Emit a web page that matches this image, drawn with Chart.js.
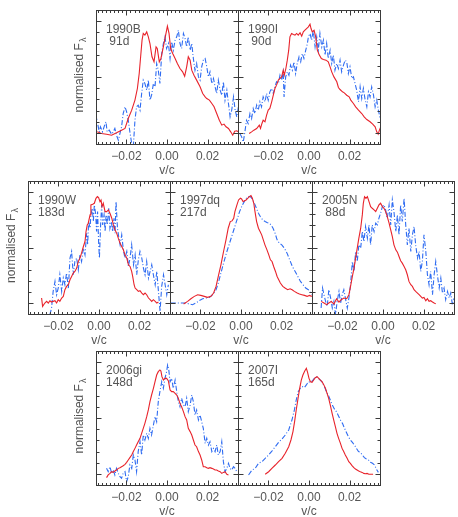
<!DOCTYPE html>
<html>
<head>
<meta charset="utf-8">
<script src="https://cdn.jsdelivr.net/npm/chart.js@4.4.1/dist/chart.umd.min.js"></script>
<style>
  body { margin: 0; background: #fff; width: 458px; height: 517px; position: relative; overflow: hidden; }
  canvas { position: absolute; }
</style>
</head>
<body>
<script>
// [v/c, normalised flux]; red = solid line, blue = dash-dot line
var sn1990B_red = [[-0.0344,0.009],[-0.0323,-0.006],[-0.0298,-0.012],[-0.0273,-0.021],[-0.0249,0.0],[-0.0224,0.024],[-0.0207,0.039],[-0.0191,0.128],[-0.0174,0.203],[-0.0158,0.293],[-0.0146,0.397],[-0.0137,0.531],[-0.0130,0.681],[-0.0123,0.830],[-0.0117,0.890],[-0.0109,0.875],[-0.0100,0.904],[-0.0092,0.860],[-0.0084,0.800],[-0.0074,0.681],[-0.0064,0.636],[-0.0054,0.770],[-0.0048,0.755],[-0.0038,0.636],[-0.0030,0.666],[-0.0018,0.770],[-0.0005,0.890],[0.0002,0.955],[0.0010,0.890],[0.0018,0.755],[0.0028,0.710],[0.0040,0.666],[0.0051,0.621],[0.0064,0.576],[0.0077,0.546],[0.0087,0.507],[0.0097,0.591],[0.0105,0.681],[0.0114,0.651],[0.0122,0.561],[0.0133,0.516],[0.0146,0.472],[0.0163,0.412],[0.0176,0.352],[0.0188,0.322],[0.0196,0.307],[0.0209,0.293],[0.0221,0.263],[0.0232,0.233],[0.0245,0.173],[0.0258,0.113],[0.0270,0.069],[0.0281,0.078],[0.0291,0.054],[0.0303,0.039],[0.0314,0.009],[0.0324,-0.021],[0.0334,0.015],[0.0344,0.018],[0.0352,0.009]];
var sn1990B_blue = [[-0.0351,0.158],[-0.0342,0.084],[-0.0334,0.009],[-0.0328,0.054],[-0.0318,0.009],[-0.0309,0.060],[-0.0301,0.099],[-0.0295,0.009],[-0.0285,0.024],[-0.0273,-0.012],[-0.0265,0.009],[-0.0257,0.039],[-0.0249,-0.021],[-0.0240,-0.066],[-0.0232,-0.006],[-0.0224,0.054],[-0.0216,0.173],[-0.0207,0.233],[-0.0199,0.188],[-0.0191,0.113],[-0.0183,0.009],[-0.0174,-0.096],[-0.0166,-0.125],[-0.0158,0.113],[-0.0150,0.233],[-0.0142,0.248],[-0.0133,0.203],[-0.0125,0.352],[-0.0117,0.472],[-0.0109,0.442],[-0.0100,0.382],[-0.0092,0.472],[-0.0084,0.293],[-0.0076,0.337],[-0.0067,0.442],[-0.0059,0.412],[-0.0051,0.621],[-0.0043,0.561],[-0.0035,0.442],[-0.0026,0.710],[-0.0018,0.800],[-0.0010,0.860],[-0.0002,0.755],[0.0007,0.800],[0.0015,0.666],[0.0023,0.815],[0.0031,0.740],[0.0040,0.830],[0.0048,0.860],[0.0056,0.919],[0.0064,0.800],[0.0072,0.755],[0.0081,0.890],[0.0089,0.845],[0.0097,0.770],[0.0105,0.860],[0.0114,0.740],[0.0122,0.800],[0.0130,0.666],[0.0138,0.561],[0.0146,0.621],[0.0155,0.501],[0.0163,0.472],[0.0171,0.591],[0.0179,0.651],[0.0188,0.666],[0.0196,0.591],[0.0204,0.501],[0.0212,0.546],[0.0221,0.442],[0.0229,0.487],[0.0237,0.412],[0.0245,0.352],[0.0253,0.472],[0.0262,0.382],[0.0270,0.337],[0.0278,0.457],[0.0286,0.293],[0.0295,0.382],[0.0303,0.263],[0.0311,0.143],[0.0319,0.203],[0.0328,0.322],[0.0336,0.203],[0.0344,0.143],[0.0352,0.233]];

var sn1990I_red = [[-0.0295,-0.006],[-0.0283,0.009],[-0.0272,0.024],[-0.0258,0.039],[-0.0245,0.069],[-0.0239,0.039],[-0.0232,0.084],[-0.0226,0.113],[-0.0217,0.099],[-0.0209,0.158],[-0.0201,0.203],[-0.0193,0.218],[-0.0184,0.278],[-0.0176,0.337],[-0.0168,0.397],[-0.0160,0.427],[-0.0151,0.472],[-0.0143,0.487],[-0.0135,0.501],[-0.0127,0.561],[-0.0122,0.516],[-0.0114,0.576],[-0.0107,0.651],[-0.0100,0.740],[-0.0094,0.860],[-0.0086,0.890],[-0.0077,0.881],[-0.0069,0.875],[-0.0061,0.890],[-0.0053,0.875],[-0.0044,0.896],[-0.0036,0.866],[-0.0028,0.904],[-0.0020,0.919],[-0.0012,0.934],[-0.0003,0.949],[0.0005,0.973],[0.0010,0.934],[0.0016,0.904],[0.0025,0.919],[0.0033,0.860],[0.0041,0.740],[0.0051,0.696],[0.0061,0.666],[0.0071,0.657],[0.0084,0.651],[0.0095,0.636],[0.0104,0.591],[0.0112,0.546],[0.0123,0.501],[0.0137,0.457],[0.0145,0.406],[0.0153,0.388],[0.0165,0.367],[0.0174,0.358],[0.0186,0.337],[0.0198,0.322],[0.0206,0.293],[0.0219,0.263],[0.0230,0.233],[0.0244,0.203],[0.0260,0.173],[0.0272,0.143],[0.0285,0.119],[0.0301,0.099],[0.0314,0.078],[0.0326,0.054],[0.0334,0.009],[0.0341,-0.012],[0.0347,0.024],[0.0354,0.054]];
var sn1990I_blue = [[-0.0341,-0.006],[-0.0332,-0.036],[-0.0324,-0.081],[-0.0316,0.009],[-0.0308,0.113],[-0.0300,0.084],[-0.0291,0.173],[-0.0283,0.128],[-0.0275,0.218],[-0.0267,0.173],[-0.0258,0.248],[-0.0250,0.203],[-0.0242,0.278],[-0.0234,0.233],[-0.0226,0.322],[-0.0217,0.278],[-0.0209,0.352],[-0.0201,0.293],[-0.0193,0.367],[-0.0184,0.397],[-0.0176,0.352],[-0.0168,0.412],[-0.0160,0.457],[-0.0151,0.442],[-0.0143,0.516],[-0.0135,0.472],[-0.0127,0.546],[-0.0123,0.322],[-0.0115,0.501],[-0.0107,0.546],[-0.0099,0.516],[-0.0091,0.606],[-0.0082,0.561],[-0.0074,0.636],[-0.0066,0.531],[-0.0058,0.621],[-0.0049,0.681],[-0.0041,0.636],[-0.0033,0.710],[-0.0025,0.666],[-0.0016,0.740],[-0.0008,0.800],[-0.0003,0.860],[0.0005,0.890],[0.0013,0.830],[0.0021,0.919],[0.0030,0.770],[0.0038,0.860],[0.0046,0.740],[0.0054,0.890],[0.0063,0.770],[0.0071,0.830],[0.0079,0.696],[0.0087,0.800],[0.0095,0.666],[0.0104,0.740],[0.0112,0.621],[0.0120,0.696],[0.0128,0.561],[0.0137,0.621],[0.0145,0.576],[0.0153,0.651],[0.0161,0.546],[0.0170,0.606],[0.0178,0.651],[0.0186,0.636],[0.0194,0.531],[0.0202,0.591],[0.0211,0.487],[0.0219,0.501],[0.0227,0.442],[0.0235,0.382],[0.0244,0.278],[0.0252,0.412],[0.0260,0.307],[0.0268,0.397],[0.0277,0.293],[0.0285,0.233],[0.0293,0.367],[0.0301,0.322],[0.0309,0.412],[0.0318,0.337],[0.0326,0.233],[0.0334,0.293],[0.0342,0.203],[0.0351,0.128]];

var sn1990W_red = [[-0.0283,0.044],[-0.0278,-0.031],[-0.0267,-0.001],[-0.0258,0.014],[-0.0250,-0.001],[-0.0242,0.020],[-0.0234,0.008],[-0.0226,0.014],[-0.0217,0.020],[-0.0209,-0.001],[-0.0201,0.029],[-0.0193,0.014],[-0.0184,0.044],[-0.0176,0.059],[-0.0168,0.119],[-0.0160,0.149],[-0.0151,0.164],[-0.0143,0.209],[-0.0135,0.239],[-0.0127,0.269],[-0.0119,0.284],[-0.0110,0.314],[-0.0102,0.374],[-0.0094,0.404],[-0.0086,0.449],[-0.0077,0.509],[-0.0069,0.554],[-0.0064,0.644],[-0.0058,0.704],[-0.0053,0.719],[-0.0044,0.794],[-0.0040,0.884],[-0.0031,0.890],[-0.0023,0.899],[-0.0015,0.944],[-0.0008,0.959],[-0.0002,0.950],[0.0005,0.914],[0.0010,0.929],[0.0015,0.869],[0.0021,0.899],[0.0030,0.824],[0.0038,0.824],[0.0046,0.839],[0.0054,0.809],[0.0063,0.764],[0.0071,0.704],[0.0079,0.659],[0.0087,0.629],[0.0095,0.584],[0.0104,0.539],[0.0112,0.509],[0.0120,0.479],[0.0128,0.434],[0.0137,0.404],[0.0145,0.344],[0.0153,0.329],[0.0161,0.284],[0.0166,0.239],[0.0173,0.164],[0.0178,0.134],[0.0186,0.119],[0.0194,0.104],[0.0202,0.110],[0.0211,0.089],[0.0219,0.074],[0.0227,0.089],[0.0235,0.074],[0.0244,0.044],[0.0252,0.029],[0.0260,0.014],[0.0268,0.029],[0.0277,0.014],[0.0285,-0.001],[0.0293,0.008]];
var sn1990W_blue = [[-0.0242,-0.106],[-0.0234,-0.046],[-0.0226,0.104],[-0.0217,0.194],[-0.0209,0.074],[-0.0201,0.134],[-0.0193,0.254],[-0.0184,0.104],[-0.0176,0.224],[-0.0168,0.164],[-0.0160,0.269],[-0.0151,0.134],[-0.0143,0.404],[-0.0135,0.464],[-0.0127,0.254],[-0.0119,0.374],[-0.0110,0.404],[-0.0102,0.299],[-0.0094,0.434],[-0.0086,0.374],[-0.0077,0.494],[-0.0069,0.434],[-0.0061,0.629],[-0.0056,0.524],[-0.0051,0.734],[-0.0044,0.674],[-0.0040,0.794],[-0.0033,0.854],[-0.0028,0.734],[-0.0023,0.884],[-0.0016,0.794],[-0.0012,0.644],[-0.0007,0.824],[-0.0002,0.554],[0.0002,0.404],[0.0008,0.704],[0.0013,0.884],[0.0018,0.704],[0.0025,0.794],[0.0030,0.644],[0.0035,0.794],[0.0041,0.704],[0.0048,0.854],[0.0054,0.674],[0.0061,0.734],[0.0067,0.644],[0.0074,0.764],[0.0079,0.629],[0.0084,0.914],[0.0091,0.674],[0.0097,0.599],[0.0104,0.524],[0.0112,0.614],[0.0120,0.479],[0.0128,0.404],[0.0137,0.464],[0.0145,0.329],[0.0153,0.404],[0.0161,0.524],[0.0170,0.344],[0.0178,0.434],[0.0186,0.254],[0.0194,0.389],[0.0202,0.464],[0.0211,0.404],[0.0219,0.314],[0.0227,0.254],[0.0235,0.374],[0.0244,0.224],[0.0252,0.284],[0.0260,0.344],[0.0268,0.254],[0.0277,0.164],[0.0285,0.284],[0.0293,0.104],[0.0301,-0.076],[0.0309,0.149],[0.0318,0.254],[0.0326,0.164],[0.0334,0.074],[0.0342,0.164]];

var sn1997dq_red = [[-0.0283,-0.010],[-0.0263,0.014],[-0.0247,0.038],[-0.0230,0.059],[-0.0214,0.074],[-0.0198,0.068],[-0.0181,0.059],[-0.0165,0.050],[-0.0148,0.059],[-0.0135,0.089],[-0.0123,0.149],[-0.0112,0.239],[-0.0099,0.344],[-0.0086,0.464],[-0.0074,0.569],[-0.0063,0.674],[-0.0053,0.734],[-0.0044,0.740],[-0.0036,0.764],[-0.0030,0.824],[-0.0020,0.884],[-0.0012,0.929],[-0.0003,0.944],[0.0003,0.938],[0.0010,0.914],[0.0016,0.920],[0.0025,0.929],[0.0033,0.944],[0.0041,0.959],[0.0049,0.968],[0.0056,0.944],[0.0063,0.899],[0.0069,0.824],[0.0077,0.734],[0.0086,0.674],[0.0094,0.644],[0.0102,0.614],[0.0110,0.569],[0.0118,0.524],[0.0128,0.479],[0.0137,0.434],[0.0145,0.389],[0.0153,0.374],[0.0161,0.329],[0.0170,0.284],[0.0178,0.239],[0.0186,0.209],[0.0194,0.179],[0.0206,0.149],[0.0217,0.134],[0.0230,0.119],[0.0242,0.128],[0.0252,0.119],[0.0263,0.104],[0.0277,0.089],[0.0288,0.080],[0.0300,0.074],[0.0313,0.068],[0.0326,0.059],[0.0337,0.068],[0.0349,0.059]];
var sn1997dq_blue = [[-0.0346,-0.001],[-0.0321,-0.001],[-0.0296,-0.001],[-0.0272,-0.001],[-0.0255,-0.010],[-0.0239,-0.016],[-0.0222,-0.001],[-0.0206,0.020],[-0.0189,0.038],[-0.0173,0.044],[-0.0156,0.050],[-0.0140,0.074],[-0.0123,0.119],[-0.0112,0.179],[-0.0099,0.269],[-0.0086,0.359],[-0.0072,0.449],[-0.0059,0.524],[-0.0046,0.599],[-0.0033,0.674],[-0.0020,0.749],[-0.0007,0.824],[0.0007,0.884],[0.0016,0.914],[0.0026,0.944],[0.0036,0.959],[0.0046,0.959],[0.0056,0.938],[0.0066,0.899],[0.0076,0.854],[0.0086,0.809],[0.0095,0.779],[0.0107,0.749],[0.0119,0.734],[0.0128,0.725],[0.0138,0.719],[0.0148,0.704],[0.0158,0.674],[0.0168,0.629],[0.0178,0.569],[0.0189,0.539],[0.0201,0.524],[0.0214,0.494],[0.0227,0.449],[0.0240,0.389],[0.0253,0.329],[0.0267,0.284],[0.0280,0.239],[0.0293,0.194],[0.0306,0.164],[0.0319,0.134],[0.0332,0.119],[0.0349,0.074]];

var sn2005N_red = [[-0.0305,0.014],[-0.0291,-0.001],[-0.0278,-0.016],[-0.0267,-0.001],[-0.0255,0.014],[-0.0242,-0.010],[-0.0229,0.038],[-0.0217,0.008],[-0.0206,0.029],[-0.0193,0.044],[-0.0179,0.038],[-0.0168,0.074],[-0.0160,0.149],[-0.0151,0.239],[-0.0143,0.314],[-0.0135,0.404],[-0.0127,0.494],[-0.0119,0.584],[-0.0110,0.674],[-0.0102,0.794],[-0.0097,0.899],[-0.0091,0.959],[-0.0084,0.944],[-0.0077,0.959],[-0.0069,0.914],[-0.0061,0.869],[-0.0053,0.854],[-0.0044,0.839],[-0.0036,0.824],[-0.0028,0.854],[-0.0020,0.884],[-0.0012,0.899],[-0.0003,0.869],[0.0005,0.854],[0.0013,0.824],[0.0021,0.779],[0.0030,0.719],[0.0038,0.659],[0.0046,0.599],[0.0054,0.524],[0.0063,0.479],[0.0071,0.458],[0.0079,0.419],[0.0087,0.380],[0.0095,0.359],[0.0104,0.329],[0.0112,0.299],[0.0120,0.254],[0.0128,0.194],[0.0137,0.164],[0.0145,0.149],[0.0153,0.119],[0.0161,0.104],[0.0170,0.089],[0.0178,0.074],[0.0186,0.059],[0.0194,0.044],[0.0202,0.050],[0.0211,0.020],[0.0219,0.038],[0.0227,0.014],[0.0235,0.020],[0.0244,0.008],[0.0252,-0.001],[0.0260,-0.007]];
var sn2005N_blue = [[-0.0305,-0.046],[-0.0298,0.134],[-0.0291,0.074],[-0.0283,0.014],[-0.0275,-0.031],[-0.0267,0.119],[-0.0258,0.044],[-0.0250,-0.046],[-0.0242,0.014],[-0.0234,-0.106],[-0.0226,0.014],[-0.0217,0.104],[-0.0209,-0.001],[-0.0201,0.074],[-0.0193,0.119],[-0.0184,0.029],[-0.0176,-0.046],[-0.0168,0.044],[-0.0160,0.164],[-0.0151,0.374],[-0.0143,0.284],[-0.0135,0.464],[-0.0127,0.374],[-0.0119,0.524],[-0.0110,0.494],[-0.0102,0.644],[-0.0094,0.554],[-0.0086,0.689],[-0.0077,0.584],[-0.0069,0.704],[-0.0061,0.524],[-0.0053,0.704],[-0.0044,0.644],[-0.0036,0.719],[-0.0028,0.704],[-0.0020,0.764],[-0.0012,0.809],[-0.0003,0.869],[0.0005,0.884],[0.0013,0.839],[0.0021,0.764],[0.0030,0.884],[0.0038,0.704],[0.0046,0.929],[0.0054,0.824],[0.0063,0.644],[0.0071,0.794],[0.0079,0.614],[0.0087,0.884],[0.0095,0.734],[0.0104,0.944],[0.0112,0.704],[0.0120,0.524],[0.0128,0.674],[0.0137,0.464],[0.0145,0.614],[0.0153,0.689],[0.0161,0.524],[0.0170,0.404],[0.0178,0.464],[0.0186,0.284],[0.0194,0.374],[0.0202,0.614],[0.0211,0.464],[0.0219,0.254],[0.0227,0.164],[0.0235,0.284],[0.0244,0.074],[0.0252,0.254],[0.0260,0.374],[0.0268,0.254],[0.0277,0.134],[0.0285,0.224],[0.0293,0.089],[0.0301,0.134],[0.0309,0.029],[0.0318,0.104],[0.0326,0.044],[0.0334,0.089],[0.0342,-0.016],[0.0351,0.044]];

var sn2006gi_red = [[-0.0298,-0.034],[-0.0290,-0.010],[-0.0281,0.004],[-0.0273,0.019],[-0.0265,0.013],[-0.0257,0.025],[-0.0249,0.034],[-0.0240,0.049],[-0.0232,0.055],[-0.0224,0.064],[-0.0216,0.073],[-0.0207,0.085],[-0.0199,0.103],[-0.0191,0.124],[-0.0183,0.145],[-0.0174,0.169],[-0.0166,0.199],[-0.0158,0.228],[-0.0150,0.258],[-0.0142,0.288],[-0.0133,0.318],[-0.0125,0.363],[-0.0117,0.407],[-0.0109,0.452],[-0.0100,0.512],[-0.0092,0.572],[-0.0084,0.646],[-0.0076,0.706],[-0.0067,0.766],[-0.0059,0.825],[-0.0051,0.885],[-0.0043,0.915],[-0.0035,0.930],[-0.0030,0.921],[-0.0025,0.870],[-0.0018,0.840],[-0.0010,0.855],[-0.0002,0.855],[0.0007,0.831],[0.0015,0.751],[0.0023,0.736],[0.0031,0.736],[0.0040,0.721],[0.0048,0.706],[0.0056,0.676],[0.0064,0.631],[0.0072,0.601],[0.0081,0.557],[0.0089,0.512],[0.0097,0.482],[0.0105,0.407],[0.0114,0.378],[0.0122,0.348],[0.0130,0.303],[0.0138,0.258],[0.0146,0.243],[0.0155,0.199],[0.0163,0.169],[0.0171,0.124],[0.0179,0.064],[0.0188,0.064],[0.0196,0.055],[0.0204,0.049],[0.0212,0.055],[0.0221,0.049],[0.0229,0.043],[0.0237,0.034],[0.0245,0.034],[0.0253,0.025],[0.0262,0.019],[0.0270,0.004],[0.0278,0.013],[0.0286,0.019],[0.0295,-0.004],[0.0303,-0.010]];
var sn2006gi_blue = [[-0.0298,0.049],[-0.0290,0.019],[-0.0281,0.064],[-0.0273,0.004],[-0.0265,0.034],[-0.0257,-0.010],[-0.0249,0.049],[-0.0240,0.004],[-0.0232,-0.025],[-0.0224,-0.040],[-0.0216,0.004],[-0.0207,0.019],[-0.0199,-0.070],[-0.0191,-0.025],[-0.0183,0.079],[-0.0174,0.049],[-0.0166,0.169],[-0.0158,0.124],[-0.0150,0.019],[-0.0142,0.199],[-0.0133,0.288],[-0.0125,0.169],[-0.0117,0.348],[-0.0109,0.303],[-0.0100,0.363],[-0.0092,0.318],[-0.0084,0.407],[-0.0076,0.348],[-0.0067,0.437],[-0.0059,0.512],[-0.0051,0.467],[-0.0043,0.646],[-0.0035,0.736],[-0.0026,0.825],[-0.0018,0.766],[-0.0010,0.855],[-0.0002,0.915],[0.0003,0.975],[0.0008,0.945],[0.0015,0.825],[0.0023,0.855],[0.0031,0.766],[0.0040,0.840],[0.0048,0.736],[0.0056,0.646],[0.0064,0.601],[0.0072,0.676],[0.0081,0.616],[0.0089,0.601],[0.0097,0.676],[0.0105,0.557],[0.0114,0.616],[0.0122,0.706],[0.0130,0.646],[0.0138,0.527],[0.0146,0.572],[0.0155,0.482],[0.0163,0.527],[0.0171,0.467],[0.0179,0.407],[0.0188,0.273],[0.0196,0.318],[0.0204,0.258],[0.0212,0.288],[0.0221,0.199],[0.0229,0.228],[0.0237,0.199],[0.0245,0.258],[0.0253,0.169],[0.0262,0.199],[0.0270,0.288],[0.0278,0.109],[0.0286,0.019],[0.0295,0.049],[0.0303,0.094],[0.0311,0.049],[0.0319,0.034],[0.0328,0.064],[0.0336,0.049],[0.0344,0.019]];

var sn2007I_red = [[-0.0216,-0.004],[-0.0199,0.019],[-0.0183,0.049],[-0.0166,0.079],[-0.0150,0.109],[-0.0133,0.139],[-0.0117,0.184],[-0.0100,0.243],[-0.0089,0.303],[-0.0079,0.378],[-0.0071,0.467],[-0.0063,0.572],[-0.0054,0.676],[-0.0046,0.766],[-0.0038,0.840],[-0.0030,0.885],[-0.0021,0.921],[-0.0013,0.945],[-0.0007,0.909],[0.0000,0.855],[0.0007,0.825],[0.0015,0.819],[0.0023,0.840],[0.0031,0.861],[0.0040,0.870],[0.0048,0.855],[0.0056,0.840],[0.0064,0.825],[0.0072,0.801],[0.0081,0.766],[0.0089,0.721],[0.0097,0.676],[0.0105,0.616],[0.0114,0.542],[0.0122,0.482],[0.0130,0.422],[0.0138,0.363],[0.0146,0.318],[0.0155,0.273],[0.0163,0.228],[0.0171,0.199],[0.0179,0.169],[0.0188,0.139],[0.0196,0.109],[0.0204,0.094],[0.0212,0.073],[0.0221,0.055],[0.0229,0.043],[0.0237,0.034],[0.0245,0.025],[0.0253,0.019],[0.0262,0.013],[0.0270,0.004],[0.0278,0.001],[0.0286,0.004],[0.0295,-0.004],[0.0303,-0.004],[0.0316,-0.004]];
var sn2007I_blue = [[-0.0298,-0.010],[-0.0281,0.034],[-0.0265,0.049],[-0.0249,0.094],[-0.0232,0.109],[-0.0216,0.139],[-0.0199,0.169],[-0.0183,0.204],[-0.0166,0.243],[-0.0150,0.282],[-0.0133,0.312],[-0.0117,0.348],[-0.0100,0.393],[-0.0084,0.482],[-0.0072,0.572],[-0.0063,0.661],[-0.0053,0.736],[-0.0043,0.766],[-0.0033,0.781],[-0.0023,0.772],[-0.0013,0.796],[-0.0003,0.825],[0.0007,0.819],[0.0016,0.831],[0.0026,0.855],[0.0036,0.870],[0.0046,0.855],[0.0056,0.840],[0.0066,0.819],[0.0076,0.781],[0.0086,0.736],[0.0095,0.706],[0.0105,0.661],[0.0115,0.616],[0.0125,0.581],[0.0135,0.557],[0.0145,0.521],[0.0155,0.482],[0.0165,0.452],[0.0174,0.413],[0.0184,0.372],[0.0194,0.333],[0.0204,0.303],[0.0214,0.282],[0.0224,0.258],[0.0234,0.228],[0.0244,0.199],[0.0253,0.193],[0.0263,0.169],[0.0273,0.145],[0.0283,0.133],[0.0293,0.124],[0.0303,0.103],[0.0313,0.094],[0.0323,0.079],[0.0332,0.043],[0.0342,0.013]];

var xTickValues = [-0.02, 0.00, 0.02];
var yMajorTicks = [0, 0.5, 1.0];

var RED = '#e8232b';
var BLUE = '#2f6cf2';
var TEXT = '#555';
var FRAME = '#3a3a3a';
var FONT = '"Liberation Sans", Arial, sans-serif';

// panel boxes (plot area) in page pixels
var panels = [
  { sn: '1990B',  age: ' 91d', red: sn1990B_red,  blue: sn1990B_blue,  left: 96,  top: 10,  w: 142, h: 134, ylab: true },
  { sn: '1990I',  age: ' 90d', red: sn1990I_red,  blue: sn1990I_blue,  left: 238, top: 10,  w: 142, h: 134 },
  { sn: '1990W',  age: '183d', red: sn1990W_red,  blue: sn1990W_blue,  left: 28,  top: 181, w: 142, h: 133, ylab: true },
  { sn: '1997dq', age: '217d', red: sn1997dq_red, blue: sn1997dq_blue, left: 170, top: 181, w: 142, h: 133 },
  { sn: '2005N',  age: ' 88d', red: sn2005N_red,  blue: sn2005N_blue,  left: 312, top: 181, w: 142, h: 133 },
  { sn: '2006gi', age: '148d', red: sn2006gi_red, blue: sn2006gi_blue, left: 96,  top: 351, w: 142, h: 134, ylab: true },
  { sn: '2007I',  age: '165d', red: sn2007I_red,  blue: sn2007I_blue,  left: 238, top: 351, w: 142, h: 134 }
];

var PAD_L = 40, PAD_T = 6, PAD_R = 10, XAXIS_H = 40;

function toXY(arr) {
  return arr.map(function (p) { return { x: p[0], y: p[1] }; });
}

function fmtTick(v) {
  if (Math.abs(v) < 1e-9) return '0.00';
  return (v < 0 ? '\u2212' : '') + Math.abs(v).toFixed(2);
}

// IDL-style frame with inward ticks, panel label and y title
var idlFrame = {
  id: 'idlFrame',
  afterDraw: function (chart) {
    var ctx = chart.ctx, a = chart.chartArea;
    var xs = chart.scales.x, ys = chart.scales.y;
    var p = chart.options.plugins.idlFrame;
    var L = Math.round(a.left) + 0.5, R = Math.round(a.right) + 0.5;
    var T = Math.round(a.top) + 0.5, B = Math.round(a.bottom) + 0.5;
    ctx.save();
    ctx.strokeStyle = FRAME;
    ctx.lineWidth = 1;
    ctx.strokeRect(L, T, R - L, B - T);
    ctx.beginPath();
    var v, px, len;
    for (var i = -17; i <= 17; i++) {
      v = i * 0.002;
      px = Math.round(xs.getPixelForValue(v)) + 0.5;
      len = (i % 10 === 0) ? 5 : 2.5;
      ctx.moveTo(px, B); ctx.lineTo(px, B - len);
      ctx.moveTo(px, T); ctx.lineTo(px, T + len);
    }
    for (var j = -1; j <= 11; j++) {
      v = j * 0.1;
      px = Math.round(ys.getPixelForValue(v)) + 0.5;
      len = (j % 5 === 0) ? 5 : 3;
      ctx.moveTo(L, px); ctx.lineTo(L + len, px);
      ctx.moveTo(R, px); ctx.lineTo(R - len, px);
    }
    ctx.stroke();

    ctx.fillStyle = TEXT;
    ctx.font = '12px ' + FONT;
    ctx.textBaseline = 'alphabetic';
    ctx.textAlign = 'left';
    ctx.fillText(p.sn, a.left + 10, a.top + 23);
    ctx.fillText(p.age, a.left + 10, a.top + 34.5);

    if (p.ylab) {
      var main = 'normalised F', sub = '\u03bb';
      ctx.font = '12px ' + FONT;
      var wm = ctx.measureText(main).width;
      ctx.font = '9px ' + FONT;
      var ws = ctx.measureText(sub).width;
      var total = wm + 1 + ws;
      ctx.translate(a.left - 16, (a.top + a.bottom) / 2 - 2);
      ctx.rotate(-Math.PI / 2);
      ctx.textBaseline = 'middle';
      ctx.font = '12px ' + FONT;
      ctx.fillText(main, -total / 2, 0);
      ctx.font = '9px ' + FONT;
      ctx.fillText(sub, -total / 2 + wm + 1, 4);
    }
    ctx.restore();
  }
};

panels.forEach(function (p) {
  var cv = document.createElement('canvas');
  var W = PAD_L + p.w + PAD_R, H = PAD_T + p.h + XAXIS_H;
  cv.width = W; cv.height = H;
  cv.style.width = W + 'px'; cv.style.height = H + 'px';
  cv.style.left = (p.left - PAD_L) + 'px';
  cv.style.top = (p.top - PAD_T) + 'px';
  document.body.appendChild(cv);

  new Chart(cv, {
    type: 'line',
    data: {
      datasets: [
        { data: toXY(p.red), borderColor: RED, borderWidth: 1.1, pointRadius: 0, tension: 0, fill: false },
        { data: toXY(p.blue), borderColor: BLUE, borderWidth: 1.1, borderDash: [5, 2, 1, 2], pointRadius: 0, tension: 0, fill: false }
      ]
    },
    options: {
      responsive: false,
      animation: false,
      devicePixelRatio: 1,
      layout: { padding: { left: PAD_L, top: PAD_T, right: PAD_R, bottom: 0 } },
      plugins: {
        legend: { display: false },
        tooltip: { enabled: false },
        idlFrame: { sn: p.sn, age: p.age, ylab: !!p.ylab }
      },
      scales: {
        x: {
          type: 'linear',
          min: -0.035, max: 0.035,
          grid: { display: false, drawTicks: false },
          border: { display: false },
          afterBuildTicks: function (s) { s.ticks = xTickValues.map(function (v) { return { value: v }; }); },
          afterFit: function (s) { s.height = XAXIS_H; },
          ticks: {
            color: TEXT, padding: 5, maxRotation: 0, autoSkip: false,
            font: { family: FONT, size: 12 },
            callback: function (v) { return fmtTick(v); }
          },
          title: {
            display: true, text: 'v/c', color: TEXT,
            font: { family: FONT, size: 12 },
            padding: { top: 0, bottom: 6 }
          }
        },
        y: {
          type: 'linear',
          display: false,
          min: -0.1, max: 1.1
        }
      }
    },
    plugins: [idlFrame]
  });
});
</script>
</body>
</html>
